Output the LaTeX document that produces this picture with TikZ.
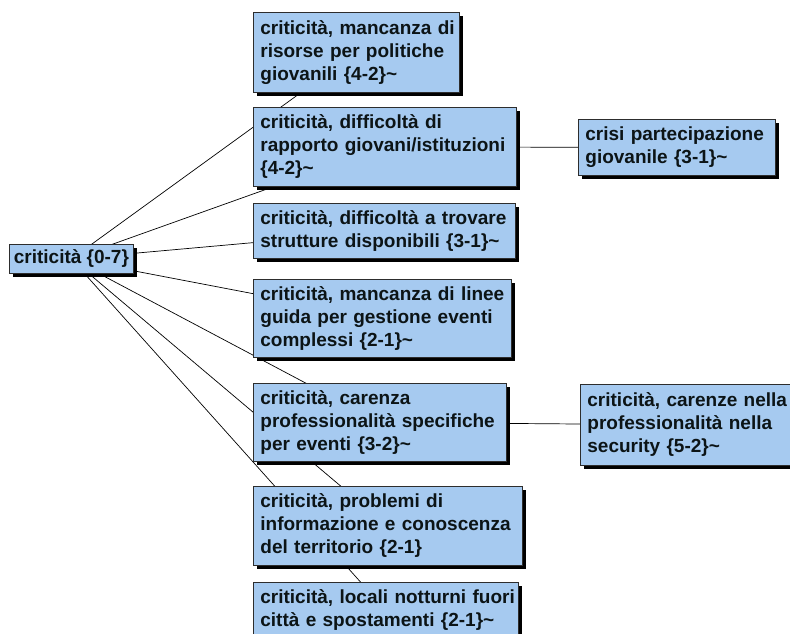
\documentclass[tikz,border=0pt]{standalone}
\usepackage{fontspec}
\setmainfont{Liberation Sans}
\usetikzlibrary{shadows,backgrounds}
\definecolor{boxfill}{RGB}{166,202,240}
\definecolor{boxline}{RGB}{45,45,45}
\definecolor{boxtext}{RGB}{12,20,22}
% one unbreakable text line inside a box
\newcommand\keepline[1]{\mbox{#1}}
\begin{document}
\begin{tikzpicture}[x=1pt,y=-1pt,
  topic/.style={draw=boxline, line width=0.8pt, fill=boxfill, text=boxtext,
    anchor=north west, align=left, inner xsep=7pt, inner ysep=0pt,
    font=\bfseries\fontsize{19}{23}\selectfont,
    drop shadow={shadow xshift=4pt, shadow yshift=-4pt, fill=black, opacity=1}},
  link/.style={draw=black, line width=0.7pt}]
\useasboundingbox (0,0) rectangle (790,634);
\clip (0,0) rectangle (790,634);

% root topic
\node[topic, align=center, inner xsep=0pt, minimum width=124pt, minimum height=29pt]
  (root) at (9,244) {criticità \{0-7\}};

% first level
\node[topic, text width=192pt, minimum height=80pt] (b1) at (253,12)
  {\keepline{criticità, mancanza di}\\\keepline{risorse per politiche}\\\keepline{giovanili \{4-2\}\textasciitilde}};
\node[topic, text width=249pt, minimum height=79pt] (b2) at (253,107)
  {\keepline{criticità, difficoltà di}\\\keepline{rapporto giovani/istituzioni}\\\keepline{\{4-2\}\textasciitilde}};
\node[topic, text width=248pt, minimum height=55pt] (b3) at (253,203)
  {\keepline{criticità, difficoltà a trovare}\\\keepline{strutture disponibili \{3-1\}\textasciitilde}};
\node[topic, text width=244pt, minimum height=78pt] (b4) at (253,279)
  {\keepline{criticità, mancanza di linee}\\\keepline{guida per gestione eventi}\\\keepline{complessi \{2-1\}\textasciitilde}};
\node[topic, text width=239pt, minimum height=78pt] (b5) at (253,383)
  {\keepline{criticità, carenza}\\\keepline{professionalità specifiche}\\\keepline{per eventi \{3-2\}\textasciitilde}};
\node[topic, text width=255pt, minimum height=79pt] (b6) at (253,486)
  {\keepline{criticità, problemi di}\\\keepline{informazione e conoscenza}\\\keepline{del territorio \{2-1\}}};
\node[topic, text width=251pt, minimum height=56pt] (b7) at (253,582)
  {\keepline{criticità, locali notturni fuori}\\\keepline{città e spostamenti \{2-1\}\textasciitilde}};

% second level
\node[topic, text width=183pt, minimum height=56pt] (b8) at (578,119)
  {\keepline{crisi partecipazione}\\\keepline{giovanile \{3-1\}\textasciitilde}};
\node[topic, text width=206pt, minimum height=81pt] (b9) at (580,384)
  {\keepline{criticità, carenze nella}\\\keepline{professionalità nella}\\\keepline{security \{5-2\}\textasciitilde}};

% connectors run centre to centre, behind the boxes
\begin{scope}[on background layer]
  \foreach \child in {b1,b2,b3,b4,b5,b6,b7}
    \draw[link] (root.center) -- (\child.center);
  \draw[link] (b2.center) -- (b8.center);
  \draw[link] (b5.center) -- (b9.center);
\end{scope}
\end{tikzpicture}
\end{document}
